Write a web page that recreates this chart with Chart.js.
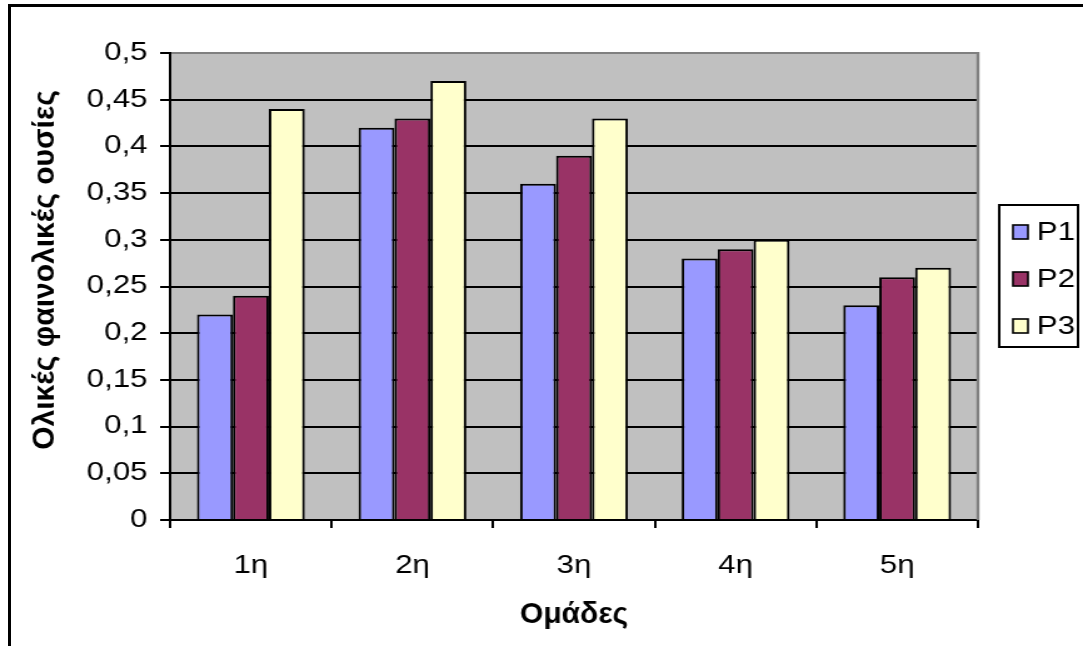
<!DOCTYPE html>
<html>
<head>
<meta charset="utf-8">
<script src="https://cdn.jsdelivr.net/npm/chart.js@4/dist/chart.umd.min.js"></script>
<style>
  html, body { margin: 0; padding: 0; background: #fff; overflow: hidden; }
  #frame { position: absolute; left: 8px; top: 4px; width: 1200px; height: 800px; border: 3px solid #000; }
  #wrap { position: absolute; left: 0; top: 0; width: 1083px; height: 646px; }
</style>
</head>
<body>
<div id="frame"></div>
<div id="wrap">
  <!-- drawn at 866 wide and stretched to 1083 -->
  <canvas id="phenolics_chart" width="866" height="646" style="width:1083px;height:646px"></canvas>
</div>
<script>
const groups = ['1η', '2η', '3η', '4η', '5η'];
const p1 = [0.22, 0.42, 0.36, 0.28, 0.23];
const p2 = [0.24, 0.43, 0.39, 0.29, 0.26];
const p3 = [0.44, 0.47, 0.43, 0.30, 0.27];
const yTickLabels = ['0', '0,05', '0,1', '0,15', '0,2', '0,25', '0,3', '0,35', '0,4', '0,45', '0,5'];
const xTitle = 'Ομάδες';
const yTitle = 'Ολικές φαινολικές ουσίες';

const FONT = "'Liberation Sans', Arial, sans-serif";
const STRETCH = 1083 / 866;

// grey plot area, with its grey right edge
const plotBackdrop = {
  id: 'plotBackdrop',
  beforeDraw(chart) {
    const { ctx, chartArea: a } = chart;
    ctx.save();
    ctx.fillStyle = '#C0C0C0';
    ctx.fillRect(a.left, a.top, a.right - a.left, a.bottom - a.top);
    ctx.restore();
  },
  afterDraw(chart) {
    const { ctx, chartArea: a } = chart;
    ctx.save();
    ctx.strokeStyle = '#808080';
    ctx.lineWidth = 2.4;
    ctx.beginPath();
    ctx.moveTo(a.right, a.top - 1);
    ctx.lineTo(a.right, a.bottom);
    ctx.stroke();
    ctx.restore();
  }
};

// axis titles, drawn without the horizontal stretch
const axisTitles = {
  id: 'axisTitles',
  afterDraw(chart, args, o) {
    const { ctx, chartArea: a } = chart;
    const put = (text, x, y, rot) => {
      ctx.save();
      ctx.translate(x, y);
      ctx.scale(1 / STRETCH, 1);
      ctx.rotate(rot);
      ctx.font = 'bold ' + o.size + 'px ' + FONT;
      ctx.fillStyle = '#000';
      ctx.textAlign = 'center';
      ctx.textBaseline = 'middle';
      ctx.fillText(text, 0, 0);
      ctx.restore();
    };
    put(o.x.text, (a.left + a.right) / 2, o.x.y, 0);
    put(o.y.text, o.y.x, o.y.y, -Math.PI / 2);
  }
};

// boxed legend on the right
const sideLegend = {
  id: 'sideLegend',
  afterDraw(chart, args, o) {
    const { ctx } = chart;
    ctx.save();
    ctx.fillStyle = '#fff';
    ctx.strokeStyle = '#000';
    ctx.lineWidth = 2;
    ctx.fillRect(o.left, o.top, o.width, o.height);
    ctx.strokeRect(o.left, o.top, o.width, o.height);
    ctx.font = '25px ' + FONT;
    ctx.textBaseline = 'middle';
    chart.data.datasets.forEach((ds, i) => {
      const y = o.top + o.firstRow + i * o.rowGap;
      ctx.fillStyle = ds.backgroundColor;
      ctx.fillRect(o.left + 11, y - 7, 12, 14);
      ctx.lineWidth = 1.6;
      ctx.strokeRect(o.left + 11, y - 7, 12, 14);
      ctx.fillStyle = '#000';
      ctx.fillText(ds.label, o.left + 30, y + 1);
    });
    ctx.restore();
  }
};

const phenolics_chart = document.getElementById('phenolics_chart');

new Chart(phenolics_chart, {
  type: 'bar',
  data: {
    labels: groups,
    datasets: [
      { label: 'P1', data: p1, backgroundColor: '#9999FF' },
      { label: 'P2', data: p2, backgroundColor: '#993366' },
      { label: 'P3', data: p3, backgroundColor: '#FFFFCC' }
    ]
  },
  options: {
    responsive: false,
    animation: false,
    layout: { padding: { top: 53, right: 84, left: 0, bottom: 0 } },
    datasets: {
      bar: {
        borderColor: '#000',
        borderWidth: 2,
        barPercentage: 1,
        categoryPercentage: 0.667
      }
    },
    scales: {
      x: {
        offset: true,
        grid: {
          offset: true,
          drawOnChartArea: false,
          color: '#000',
          lineWidth: 2,
          tickLength: 8
        },
        border: { color: '#000', width: 2 },
        ticks: { color: '#000', padding: 23, font: { family: FONT, size: 25 } },
        afterFit(scale) { scale.height = 126; }
      },
      y: {
        min: 0,
        max: 0.5,
        grid: {
          color: c => (c.tick && Math.abs(c.tick.value - 0.5) < 1e-9) ? '#808080' : '#000',
          tickColor: '#000',
          lineWidth: 2,
          tickLength: 8
        },
        border: { color: '#000', width: 2 },
        ticks: {
          stepSize: 0.05,
          color: '#000',
          padding: 10,
          font: { family: FONT, size: 25 },
          callback: (v, i) => yTickLabels[i]
        },
        afterFit(scale) { scale.width = 136; }
      }
    },
    plugins: {
      legend: { display: false },
      tooltip: { enabled: false },
      axisTitles: {
        size: 30,
        x: { text: xTitle, y: 615 },
        y: { text: yTitle, x: 36, y: 270 }
      },
      sideLegend: { left: 799, top: 205, width: 63, height: 142, firstRow: 27, rowGap: 47 }
    }
  },
  plugins: [plotBackdrop, axisTitles, sideLegend]
});
</script>
</body>
</html>
